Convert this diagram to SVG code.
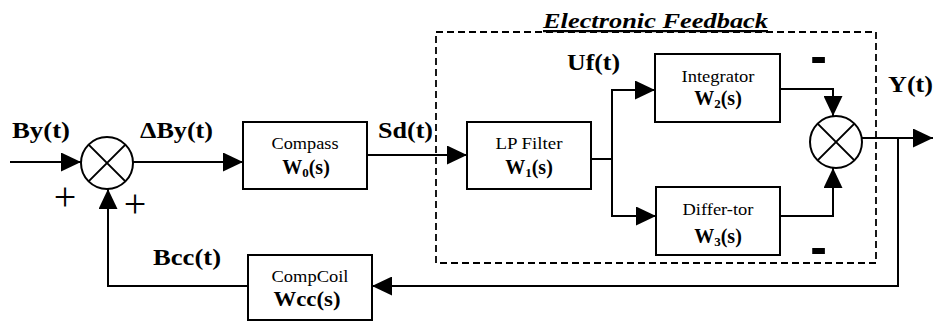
<svg xmlns="http://www.w3.org/2000/svg" width="939" height="322" viewBox="0 0 939 322">
  <style>
    .box { fill: #fff; stroke: #000; stroke-width: 2; }
    .sum { fill: #fff; stroke: #000; stroke-width: 2; }
    .wire { fill: none; stroke: #000; stroke-width: 2; }
    .frame { fill: none; stroke: #000; stroke-width: 1.8; stroke-dasharray: 7 4; }
    .sig { font-family: 'Liberation Serif', serif; font-weight: bold; font-size: 24px; fill: #000; }
    .name { font-family: 'Liberation Serif', serif; font-size: 17px; fill: #000; text-anchor: middle; }
    .tf { font-family: 'Liberation Serif', serif; font-weight: bold; font-size: 20px; fill: #000; text-anchor: middle; }
    .sub { font-size: 13px; }
    .plus { font-family: 'Liberation Serif', serif; font-size: 40px; fill: #000; text-anchor: middle; }
    .minus { font-family: 'Liberation Sans', sans-serif; font-weight: bold; font-size: 50px; fill: #000; text-anchor: middle; }
    .title { font-family: 'Liberation Serif', serif; font-weight: bold; font-style: italic; font-size: 22px; fill: #000; text-decoration: underline; }
  </style>
  <defs>
    <marker id="arrow" viewBox="0 0 20 19" refX="20" refY="9.5" markerWidth="20" markerHeight="19" markerUnits="userSpaceOnUse" orient="auto">
      <path d="M0,0 L20,9.5 L0,19 Z" fill="#000"/>
    </marker>
  </defs>
  <rect width="939" height="322" fill="#fff"/>

  <!-- electronic feedback frame -->
  <g id="electronic-feedback">
    <rect class="frame" x="436" y="32" width="440" height="231"/>
    <text class="title" x="543" y="28" textLength="225" lengthAdjust="spacingAndGlyphs">Electronic Feedback</text>
  </g>

  <!-- connectors -->
  <g id="connectors">
    <path class="wire" d="M10,162 H81" marker-end="url(#arrow)"/>
    <path class="wire" d="M133,162 H243" marker-end="url(#arrow)"/>
    <path class="wire" d="M367,155 H467" marker-end="url(#arrow)"/>
    <path class="wire" d="M591,159 H612"/>
    <path class="wire" d="M612,159 V90 H655" marker-end="url(#arrow)"/>
    <path class="wire" d="M612,159 V216 H656" marker-end="url(#arrow)"/>
    <path class="wire" d="M780,89 H833 V116" marker-end="url(#arrow)"/>
    <path class="wire" d="M780,216 H833 V168" marker-end="url(#arrow)"/>
    <path class="wire" d="M862,138 H933" marker-end="url(#arrow)"/>
    <path class="wire" d="M898,138 V286 H372" marker-end="url(#arrow)"/>
    <path class="wire" d="M248,286 H108 V189" marker-end="url(#arrow)"/>
  </g>

  <!-- signal labels -->
  <g id="labels">
    <text class="sig" x="12" y="138" textLength="58" lengthAdjust="spacingAndGlyphs">By(t)</text>
    <text class="sig" x="140" y="138" textLength="73" lengthAdjust="spacingAndGlyphs">ΔBy(t)</text>
    <text class="sig" x="378" y="138" textLength="55" lengthAdjust="spacingAndGlyphs">Sd(t)</text>
    <text class="sig" x="567" y="70" textLength="53" lengthAdjust="spacingAndGlyphs">Uf(t)</text>
    <text class="sig" x="888" y="92" textLength="45" lengthAdjust="spacingAndGlyphs">Y(t)</text>
    <text class="sig" x="153" y="265" textLength="68" lengthAdjust="spacingAndGlyphs">Bcc(t)</text>
    <text class="plus" x="65" y="210">+</text>
    <text class="plus" x="135" y="217">+</text>
    <text class="minus" x="818.5" y="73">-</text>
    <text class="minus" x="818.5" y="264">-</text>
  </g>

  <!-- input summing junction -->
  <g id="sum-input">
    <circle class="sum" cx="107" cy="163" r="26"/>
    <path class="wire" d="M88.6,144.6 L125.4,181.4 M125.4,144.6 L88.6,181.4"/>
  </g>

  <g id="compass">
    <rect class="box" x="243" y="122" width="124" height="67"/>
    <text class="name" x="305" y="149" textLength="67" lengthAdjust="spacingAndGlyphs">Compass</text>
    <text class="tf" x="306" y="174">W<tspan class="sub" dy="3">0</tspan><tspan dy="-3">(s)</tspan></text>
  </g>

  <g id="lp-filter">
    <rect class="box" x="467" y="122" width="124" height="67"/>
    <text class="name" x="529" y="149" textLength="67" lengthAdjust="spacingAndGlyphs">LP Filter</text>
    <text class="tf" x="529" y="174">W<tspan class="sub" dy="3">1</tspan><tspan dy="-3">(s)</tspan></text>
  </g>

  <g id="integrator">
    <rect class="box" x="655" y="54" width="125" height="68"/>
    <text class="name" x="718" y="82" textLength="73" lengthAdjust="spacingAndGlyphs">Integrator</text>
    <text class="tf" x="718" y="105">W<tspan class="sub" dy="3">2</tspan><tspan dy="-3">(s)</tspan></text>
  </g>

  <g id="differentiator">
    <rect class="box" x="656" y="187" width="124" height="68"/>
    <text class="name" x="718" y="215" textLength="71" lengthAdjust="spacingAndGlyphs">Differ-tor</text>
    <text class="tf" x="718" y="243">W<tspan class="sub" dy="3">3</tspan><tspan dy="-3">(s)</tspan></text>
  </g>

  <!-- output summing junction -->
  <g id="sum-output">
    <circle class="sum" cx="836" cy="142" r="26"/>
    <path class="wire" d="M817.6,123.6 L854.4,160.4 M854.4,123.6 L817.6,160.4"/>
  </g>

  <g id="comp-coil">
    <rect class="box" x="248" y="255" width="124" height="65"/>
    <text class="name" x="310" y="282" textLength="77" lengthAdjust="spacingAndGlyphs">CompCoil</text>
    <text class="tf" x="307" y="306" textLength="67" lengthAdjust="spacingAndGlyphs">Wcc(s)</text>
  </g>
</svg>
